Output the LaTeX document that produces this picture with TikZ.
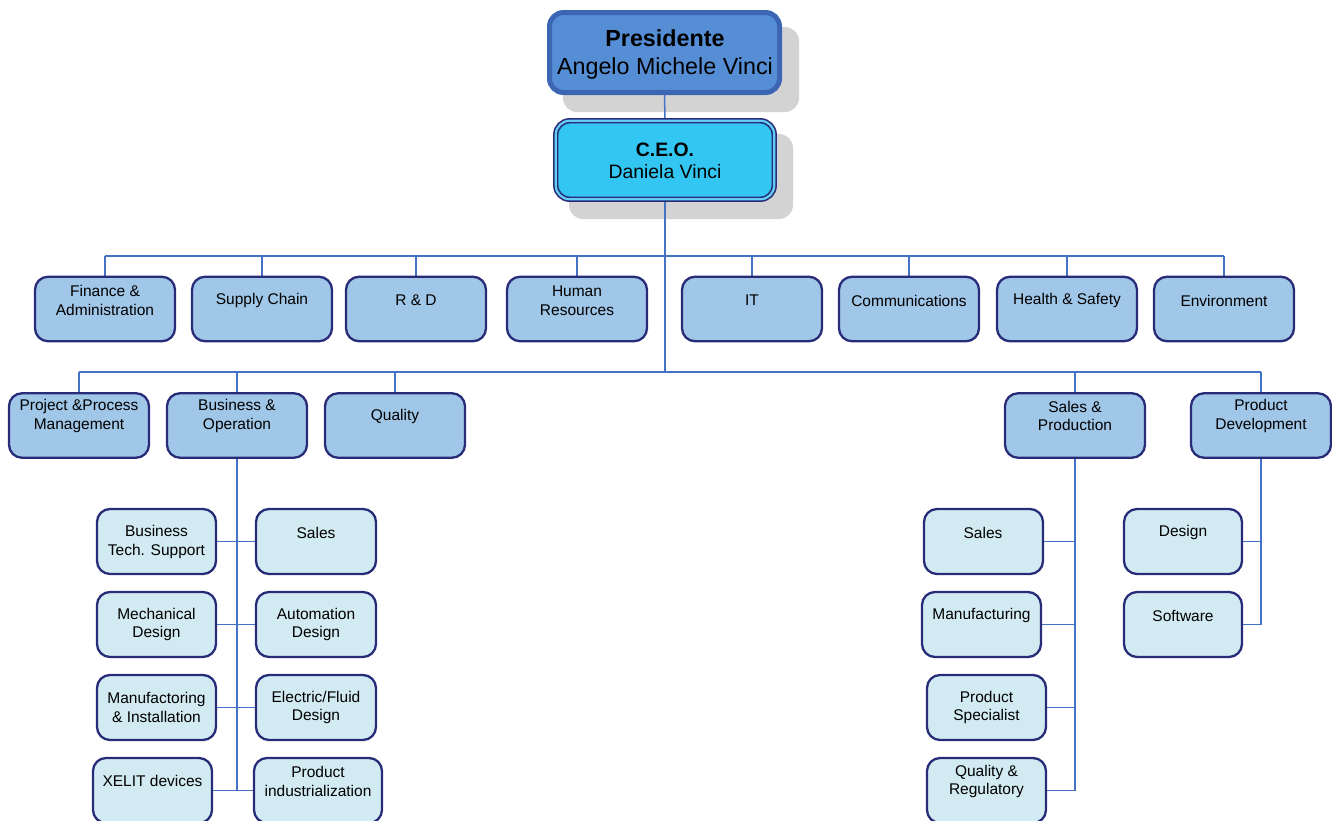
\documentclass[tikz,border=0pt]{standalone}
\usepackage{fontspec}
\setmainfont{Liberation Sans}
\definecolor{navy}{RGB}{40,44,120}
\definecolor{conn}{RGB}{68,114,196}
\definecolor{rowfill}{RGB}{160,198,232}
\definecolor{subfill}{RGB}{210,234,242}
\definecolor{presfill}{RGB}{85,142,213}
\definecolor{presline}{RGB}{60,102,180}
\definecolor{ceofill}{RGB}{51,198,242}
\definecolor{ceoband}{RGB}{100,205,242}
\definecolor{shadowgrey}{RGB}{211,211,211}
\pgfdeclarelayer{shadowl}
\pgfdeclarelayer{connl}
\pgfsetlayers{shadowl,connl,main}
\begin{document}
\begin{tikzpicture}[x=1pt,y=-1pt,
 rowbox/.style={draw=navy, line width=2.3pt, fill=rowfill, rounded corners=13pt, minimum width=140pt, minimum height=64.5pt, inner sep=0pt},
 subbox/.style={draw=navy, line width=2.3pt, fill=subfill, rounded corners=13pt, minimum height=65pt, inner sep=0pt},
 txt/.style={align=center, font=\fontsize{15.5}{18.5}\selectfont, inner sep=0pt, yshift=-1.5pt},
 link/.style={draw=conn, line width=1.5pt}]
\useasboundingbox (0,0) rectangle (1332,820);

% top
\node[draw=presline, line width=5pt, fill=presfill, rounded corners=14pt, minimum width=230pt, minimum height=80pt, inner sep=0pt] (pres) at (664.5,52.5) {};
\node[align=center, inner sep=0pt, font=\fontsize{23.3}{28}\selectfont] (prest) at (665,54) {\textbf{Presidente}\\Angelo Michele Vinci};
\node[draw=navy, line width=1.6pt, double=ceoband, double distance=2.2pt, fill=ceofill, rounded corners=14pt, minimum width=218.5pt, minimum height=78.5pt, inner sep=0pt] (ceo) at (665,160) {};
\node[align=center, inner sep=0pt, font=\fontsize{19.4}{22}\selectfont] (ceot) at (665,161) {\textbf{C.E.O.}\\Daniela Vinci};

% row 1
\node[rowbox] (fin) at (105,309) {};  \node[txt] at (105,299) {Finance \&\\Administration};
\node[rowbox] (sup) at (262,309) {};  \node[txt] at (262,299) {Supply Chain};
\node[rowbox] (rd)  at (416,309) {};  \node[txt] at (416,299) {R \& D};
\node[rowbox] (hr)  at (577,309) {};  \node[txt] at (577,299) {Human\\Resources};
\node[rowbox] (it)  at (752,309) {};  \node[txt] at (752,299) {IT};
\node[rowbox] (com) at (909,309) {};  \node[txt] at (909,299) {Communications};
\node[rowbox] (hs)  at (1067,309) {}; \node[txt] at (1067,299) {Health \& Safety};
\node[rowbox] (env) at (1224,309) {}; \node[txt] at (1224,299) {Environment};

% row 2
\node[rowbox] (ppm)  at (79,425.5) {};   \node[txt] at (79,414.5) {Project \&Process\\Management};
\node[rowbox] (bo)   at (237,425.5) {};  \node[txt] at (237,414.5) {Business \&\\Operation};
\node[rowbox] (qual) at (395,425.5) {};  \node[txt] at (395,415) {Quality};
\node[rowbox] (sp)   at (1075,425.5) {}; \node[txt] at (1075,414.5) {Sales \&\\Production};
\node[rowbox] (pd)   at (1261,425.5) {}; \node[txt] at (1261,414.5) {Product\\Development};

% left subtree
\node[subbox, minimum width=119pt] (bts) at (156.5,541.5) {}; \node[txt] at (156.5,540.5) {Business\\Tech. Support};
\node[subbox, minimum width=119pt] (md)  at (156.5,624.5) {}; \node[txt] at (156.5,623) {Mechanical\\Design};
\node[subbox, minimum width=119pt] (mi)  at (156.5,707.5) {}; \node[txt] at (156.5,706) {Manufactoring\\\& Installation};
\node[subbox, minimum width=119pt] (xel) at (152.5,790.5) {}; \node[txt] at (152.5,779) {XELIT devices};
\node[subbox, minimum width=120pt] (s1)  at (316,541.5) {};   \node[txt] at (316,531) {Sales};
\node[subbox, minimum width=120pt] (ad)  at (316,624.5) {};   \node[txt] at (316,623) {Automation\\Design};
\node[subbox, minimum width=120pt] (ef)  at (316,707.5) {};   \node[txt] at (316,706) {Electric/Fluid\\Design};
\node[subbox, minimum width=128pt] (pi)  at (318,790.5) {};   \node[txt] at (318,780) {Product\\industrialization};

% right subtree
\node[subbox, minimum width=119pt] (s2) at (983.5,541.5) {}; \node[txt] at (983,531) {Sales};
\node[subbox, minimum width=119pt] (mf) at (981.5,624.5) {}; \node[txt] at (981.5,614) {Manufacturing};
\node[subbox, minimum width=119pt] (ps) at (986.5,707.5) {}; \node[txt] at (986.5,706) {Product\\Specialist};
\node[subbox, minimum width=119pt] (qr) at (986.5,790.5) {}; \node[txt] at (986.5,780) {Quality \&\\Regulatory};
\node[subbox, minimum width=118pt] (des) at (1183,541.5) {}; \node[txt] at (1183,531) {Design};
\node[subbox, minimum width=118pt] (sw)  at (1183,624.5) {}; \node[txt] at (1183,614) {Software};

\coordinate (bus1) at (665,256);
\coordinate (bus2) at (665,372);

\begin{pgfonlayer}{shadowl}
\fill[shadowgrey, rounded corners=14pt] (563,27) rectangle (799,112);
\fill[shadowgrey, rounded corners=14pt] (569,134) rectangle (793,219);
\end{pgfonlayer}

\begin{pgfonlayer}{connl}
\draw[link] (pres.south) -- (ceo.north);
\draw[link] (ceo.south) -- (bus2);
\draw[link] (fin.north |- bus1) -- (env.north |- bus1);
\foreach \n in {fin,sup,rd,hr,it,com,hs,env} \draw[link] (\n.north) -- (\n.north |- bus1);
\draw[link] (ppm.north |- bus2) -- (pd.north |- bus2);
\foreach \n in {ppm,bo,qual,sp,pd} \draw[link] (\n.north) -- (\n.north |- bus2);
\draw[link] (bo.south) -- (bo.south |- xel.east);
\draw[link] (bts.east) -- (s1.west);
\draw[link] (md.east) -- (ad.west);
\draw[link] (mi.east) -- (ef.west);
\draw[link] (xel.east) -- (pi.west);
\draw[link] (sp.south) -- (sp.south |- qr.east);
\foreach \n in {s2,mf,ps,qr} \draw[link] (\n.east) -- (\n.east -| sp.south);
\draw[link] (pd.south) -- (pd.south |- sw.east);
\foreach \n in {des,sw} \draw[link] (\n.east) -- (\n.east -| pd.south);
\end{pgfonlayer}
\end{tikzpicture}
\end{document}
